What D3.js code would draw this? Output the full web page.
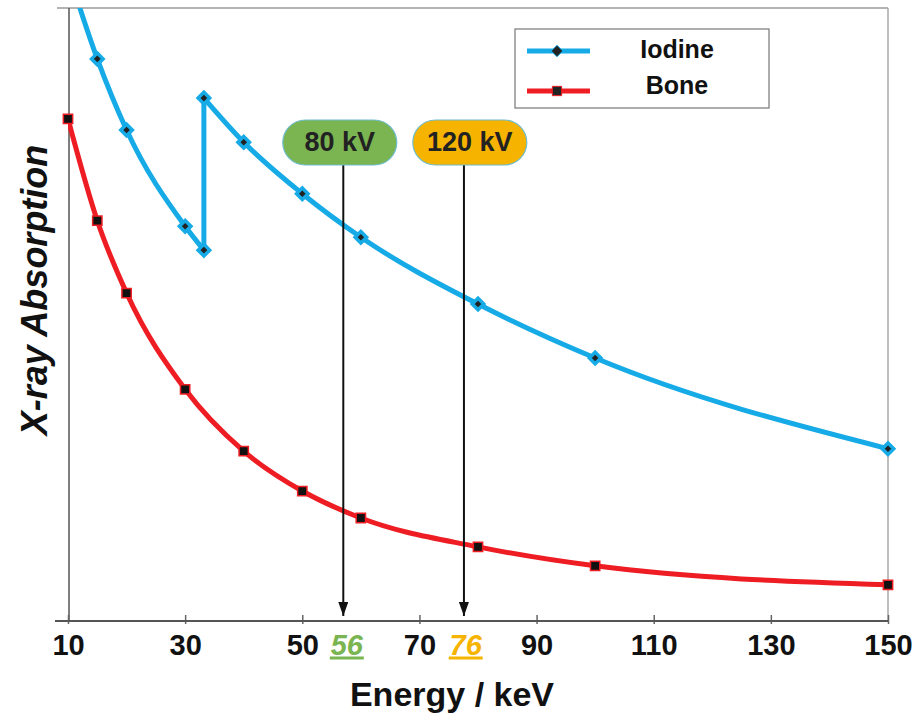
<!DOCTYPE html>
<html>
<head>
<meta charset="utf-8">
<script src="https://cdn.jsdelivr.net/npm/d3@7"></script>
<style>
  html, body { margin: 0; padding: 0; background: #fff; }
  svg { display: block; font-family: "Liberation Sans", Arial, Helvetica, sans-serif; }
</style>
</head>
<body>
<svg id="chart" width="917" height="719"></svg>
<script>
// ---------- data ----------
const iodineEnergy = [10, 15, 20, 30, 33.2, 33.2, 40, 50, 60, 80, 100, 150];
const iodineValue  = [106, 91.7, 80.1, 64.4, 60.5, 85.3, 78.1, 69.7, 62.6, 51.7, 42.9, 28.1];
const boneEnergy   = [10, 15, 20, 30, 40, 50, 60, 80, 100, 150];
const boneValue    = [81.9, 65.3, 53.5, 37.8, 27.7, 21.2, 16.8, 12.1, 9.0, 5.9];
const xTickValues  = [10, 30, 50, 70, 90, 110, 130, 150];
const kvLabels     = ["80 kV", "120 kV"];
const kvColors     = ["#7ab551", "#f6b300"];
const effEnergy    = ["56", "76"];
const arrowEnergy  = [57.0, 77.6];
const pillEnergy   = [56.4, 78.6];
const effLabelPos  = [57.6, 77.9];
const seriesNames  = ["Iodine", "Bone"];
const seriesColors = ["#16abe6", "#ee1d23"];

(function () {
// ---------- layout ----------
const svg = d3.select("#chart");
const mLeft = 68, mRight = 888, mTop = 8, mBottom = 621;
const x = d3.scaleLinear().domain([10, 150]).range([mLeft, mRight]);
const y = d3.scaleLinear().domain([0, 100]).range([mBottom, mTop]);

const defs = svg.append("defs");
defs.append("clipPath").attr("id", "plotClip")
  .append("rect").attr("x", mLeft).attr("y", mTop).attr("width", mRight - mLeft).attr("height", mBottom - mTop);

// frame lines
svg.append("line").attr("x1", mLeft - 11).attr("x2", mRight).attr("y1", mTop).attr("y2", mTop)
  .attr("stroke", "#9a9a9a").attr("stroke-width", 1.5);
svg.append("line").attr("x1", mRight).attr("x2", mRight).attr("y1", mTop).attr("y2", mBottom)
  .attr("stroke", "#a8a8a8").attr("stroke-width", 1.5);
svg.append("line").attr("x1", mLeft + 1).attr("x2", mLeft + 1).attr("y1", mTop).attr("y2", mBottom)
  .attr("stroke", "#555").attr("stroke-width", 1.5);

// x axis
const xAxis = d3.axisBottom(x).tickValues(xTickValues).tickSizeInner(-6).tickSizeOuter(0).tickFormat(d3.format("d"));
const gx = svg.append("g").attr("transform", `translate(0,${mBottom})`).call(xAxis);
gx.select(".domain").remove();
gx.selectAll(".tick line").attr("stroke", "#666").attr("stroke-width", 1.5).attr("y1", 3);
gx.selectAll(".tick text")
  .attr("y", 34).attr("dy", null)
  .attr("font-size", 29).attr("font-weight", "bold").attr("fill", "#111")
  .attr("font-family", "'Liberation Sans', Arial, sans-serif");
svg.append("line").attr("x1", mLeft - 13).attr("x2", mRight).attr("y1", mBottom).attr("y2", mBottom)
  .attr("stroke", "#555").attr("stroke-width", 1.8);

// axis titles
svg.append("text").attr("x", 452).attr("y", 706).attr("text-anchor", "middle")
  .attr("font-size", 34).attr("font-weight", "bold").attr("fill", "#111").text("Energy / keV");
svg.append("text").attr("transform", "translate(47,290) rotate(-90)").attr("text-anchor", "middle")
  .attr("font-size", 36).attr("font-weight", "bold").attr("font-style", "italic").attr("fill", "#111")
  .text("X-ray Absorption");

// lines
const iodine = iodineEnergy.map((e, i) => [e, iodineValue[i]]);
const bone = boneEnergy.map((e, i) => [e, boneValue[i]]);
const smooth = d3.line().x(d => x(d[0])).y(d => y(d[1])).curve(d3.curveMonotoneX);
const straight = d3.line().x(d => x(d[0])).y(d => y(d[1]));

// split iodine at the K-edge (repeated energy)
const edgeIdx = iodine.findIndex((d, i) => i > 0 && d[0] === iodine[i - 1][0]);
const iodinePre = iodine.slice(0, edgeIdx);
const iodineEdge = iodine.slice(edgeIdx - 1, edgeIdx + 1);
const iodinePost = iodine.slice(edgeIdx);

const plot = svg.append("g").attr("clip-path", "url(#plotClip)");
const stroke = (sel, c) => sel.attr("fill", "none").attr("stroke", c).attr("stroke-width", 5)
  .attr("stroke-linejoin", "round").attr("stroke-linecap", "round");
stroke(plot.append("path").datum(bone).attr("d", smooth), seriesColors[1]);
stroke(plot.append("path").datum(iodinePre).attr("d", smooth), seriesColors[0]);
stroke(plot.append("path").datum(iodineEdge).attr("d", straight), seriesColors[0]);
stroke(plot.append("path").datum(iodinePost).attr("d", smooth), seriesColors[0]);

const inRange = d => d[1] <= 100;
const diamond = d3.symbol().type(d3.symbolDiamond2).size(85);
const square = d3.symbol().type(d3.symbolSquare2).size(110);

const marks = svg.append("g");
marks.selectAll(".bm").data(bone.filter(inRange)).join("path")
  .attr("transform", d => `translate(${x(d[0])},${y(d[1])})`)
  .attr("d", square).attr("fill", "#111").attr("stroke", seriesColors[1]).attr("stroke-width", 1.5);
marks.selectAll(".im").data(iodine.filter(inRange)).join("path")
  .attr("transform", d => `translate(${x(d[0])},${y(d[1])})`)
  .attr("d", diamond).attr("fill", "#222").attr("stroke", seriesColors[0]).attr("stroke-width", 3.5);

// annotations: arrows
defs.append("marker").attr("id", "arrowHead")
  .attr("viewBox", "0 0 14 10").attr("refX", 14).attr("refY", 5)
  .attr("markerWidth", 14).attr("markerHeight", 10).attr("markerUnits", "userSpaceOnUse")
  .attr("orient", "auto")
  .append("path").attr("d", "M0,0 L14,5 L0,10 z").attr("fill", "#111");

kvLabels.forEach((lab, i) => {
  const ax = x(arrowEnergy[i]);
  svg.append("line").attr("x1", ax).attr("x2", ax).attr("y1", 165).attr("y2", 616)
    .attr("stroke", "#111").attr("stroke-width", 2).attr("marker-end", "url(#arrowHead)");
  const px = x(pillEnergy[i]);
  svg.append("rect").attr("x", px - 57).attr("y", 120).attr("width", 114).attr("height", 45)
    .attr("rx", 22.5).attr("ry", 22.5).attr("fill", kvColors[i]).attr("stroke", "#6fbccc").attr("stroke-width", 1.2);
  svg.append("text").attr("x", px).attr("y", 151).attr("text-anchor", "middle")
    .attr("font-size", 27).attr("font-weight", "bold").attr("fill", "#222").text(lab);
  const lx = x(effLabelPos[i]);
  svg.append("text").attr("x", lx).attr("y", 655).attr("text-anchor", "middle")
    .attr("font-size", 29).attr("font-weight", "bold").attr("font-style", "italic")
    .attr("fill", kvColors[i]).text(effEnergy[i]);
  svg.append("line").attr("x1", lx - 17).attr("x2", lx + 17).attr("y1", 658).attr("y2", 658)
    .attr("stroke", kvColors[i]).attr("stroke-width", 3);
});

// legend
const lg = svg.append("g");
lg.append("rect").attr("x", 515).attr("y", 29).attr("width", 254).attr("height", 79)
  .attr("fill", "#fff").attr("stroke", "#777").attr("stroke-width", 1.2);
const legendY = [51, 91];
seriesNames.forEach((name, i) => {
  lg.append("line").attr("x1", 527).attr("x2", 590).attr("y1", legendY[i]).attr("y2", legendY[i])
    .attr("stroke", seriesColors[i]).attr("stroke-width", 5);
  lg.append("path").attr("transform", `translate(557,${legendY[i]})`)
    .attr("d", i === 0 ? diamond : square)
    .attr("fill", "#222").attr("stroke", seriesColors[i]).attr("stroke-width", 1);
  lg.append("text").attr("x", 677).attr("y", legendY[i] + (i === 0 ? 7 : 3))
    .attr("text-anchor", "middle").attr("font-size", 25).attr("font-weight", "bold").attr("fill", "#111")
    .text(name);
});
})();
</script>
</body>
</html>
